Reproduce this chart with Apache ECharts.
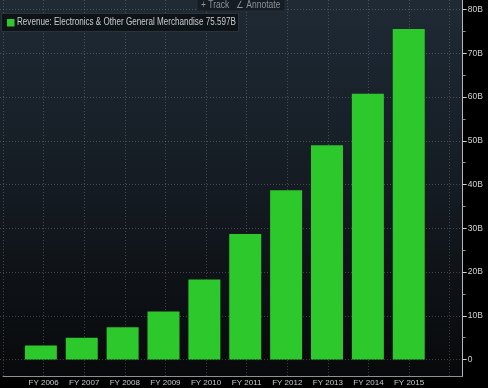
<!DOCTYPE html>
<html><head><meta charset="utf-8">
<script src="https://cdn.jsdelivr.net/npm/echarts@6/dist/echarts.min.js"></script>
<style>html,body{margin:0;padding:0;background:#000;}#c{width:488px;height:388px;}</style>
</head><body><div id="c"></div>
<script>
const categories = ['FY 2006','FY 2007','FY 2008','FY 2009','FY 2010','FY 2011','FY 2012','FY 2013','FY 2014','FY 2015'];
const revenue = [3.2, 5.0, 7.4, 11.0, 18.3, 28.7, 38.7, 49.0, 60.8, 75.597];
const seriesName = 'Revenue: Electronics & Other General Merchandise';
const lastLabel = '75.597B';
const yTickStep = 10;

const chart = echarts.init(document.getElementById('c'), null, {renderer:'canvas'});
const W = 488, H = 388;
const axisX = 462.7, plotBottom = 376;
const font = "'Liberation Sans',Arial,sans-serif";
const gridColor = 'rgba(140,150,160,0.38)';

chart.setOption({
  backgroundColor: '#000',
  animation: false,
  graphic: [
    {type:'rect', z:-10, shape:{x:0,y:0,width:axisX,height:plotBottom},
     style:{fill:new echarts.graphic.LinearGradient(0,0,0,1,[
       {offset:0,color:'#1f2a35'},{offset:0.5,color:'#141b22'},{offset:1,color:'#08090b'}])}},
    {type:'rect', z:50, shape:{x:197,y:-1,width:88,height:12},
     style:{fill:'#151c23', stroke:'#242d36', lineWidth:1}},
    {type:'text', z:51, x:201, y:0.5, scaleX:0.85,
     style:{text:'+ Track   \u2220 Annotate', fill:'#8c949c', font:"10px "+font}},
    {type:'rect', z:50, shape:{x:1.5,y:13.5,width:237,height:18},
     style:{fill:'#0e1318', stroke:'#2a333c', lineWidth:1}},
    {type:'rect', z:51, shape:{x:7,y:19,width:7.5,height:7.5}, style:{fill:'#2cc82c'}},
    {type:'text', z:51, x:17, y:17.5, scaleX:0.81,
     style:{text: seriesName + ' ' + lastLabel, fill:'#c9ccce', font:"10px "+font}}
  ],
  grid: [
    {left:0, right:W-axisX, top:0, bottom:H-plotBottom, containLabel:false},
    {left:0, right:W-axisX, top:9.7, bottom:H-359.5, containLabel:false}
  ],
  xAxis: [
    {type:'value', gridIndex:0, min:-1, max:10.32, interval:1,
     axisLine:{show:true, onZero:false, lineStyle:{color:'#8a9096', width:1}},
     axisTick:{show:false},
     splitLine:{show:true, lineStyle:{color:gridColor, type:[1,2], width:1}},
     axisLabel:{show:true, margin:3, color:'#c8cbcd', fontSize:8, fontFamily:font,
       formatter: v => (v>=0 && v<categories.length && Number.isInteger(v)) ? categories[v] : ''}},
    {type:'value', gridIndex:1, min:-1, max:10.32, interval:1, show:false}
  ],
  yAxis: [
    {type:'value', gridIndex:0, position:'right', min:-3.77, max:82.2,
     axisLine:{show:true, onZero:false, lineStyle:{color:'#b4b9bd', width:1}},
     axisTick:{show:false}, axisLabel:{show:false}, splitLine:{show:false}},
    {type:'value', gridIndex:1, position:'right', min:0, max:80, interval:yTickStep,
     axisLine:{show:false, onZero:false},
     axisTick:{show:true, length:4, lineStyle:{color:'#d0d3d5'}},
     minorTick:{show:true, splitNumber:2, length:3, lineStyle:{color:'#8a9096'}},
     splitLine:{show:true, lineStyle:{color:gridColor, type:[1,2], width:1}},
     axisLabel:{margin:5, color:'#d0d3d5', fontSize:8.5, fontFamily:font,
       formatter: v => v===0 ? '0' : v + 'B'}}
  ],
  series: [{
    type:'bar', xAxisIndex:1, yAxisIndex:1, name:seriesName,
    data: revenue.map((v,i)=>[i,v]),
    barWidth:32, itemStyle:{color:'#2cc82c'}, z:5
  }]
});
</script></body></html>
